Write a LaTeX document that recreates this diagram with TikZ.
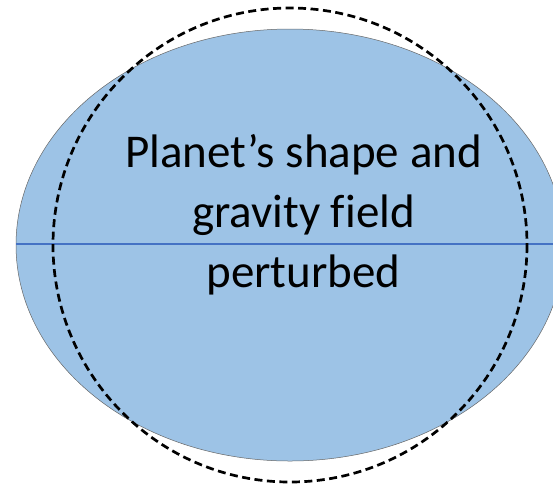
\documentclass[tikz,border=0pt]{standalone}
\usepackage{fontspec}
\setmainfont[Ligatures=NoCommon]{Carlito}
\definecolor{planetfill}{HTML}{9DC3E6}
\definecolor{eqline}{HTML}{4472C4}
\tikzset{
  planet/.style={fill=planetfill, draw=black!60, line width=0.5pt},
  equator/.style={draw=eqline, line width=1.3pt},
  refcircle/.style={draw=black, line width=2.7pt, dash pattern=on 8pt off 4.5pt},
  label/.style={font=\fontsize{47}{60}\selectfont, anchor=base, inner sep=0pt}
}
\begin{document}
\begin{tikzpicture}[x=1pt,y=-1pt]
\useasboundingbox (0,0) rectangle (553,485);
\clip (0,0) rectangle (553,485);
\path[planet] (290,245) ellipse [x radius=274, y radius=216];
\coordinate (eqL) at (16,244);
\coordinate (eqR) at (553,244);
\draw[equator] (eqL) -- (eqR);
\draw[refcircle] (290,245) circle [radius=237];
\node[label] (t1) at (303.5,167) {Planet’s shape and};
\node[label] (t2) at (303.5,227) {gravity field};
\node[label] (t3) at (303.5,287) {perturbed};
\end{tikzpicture}
\end{document}
